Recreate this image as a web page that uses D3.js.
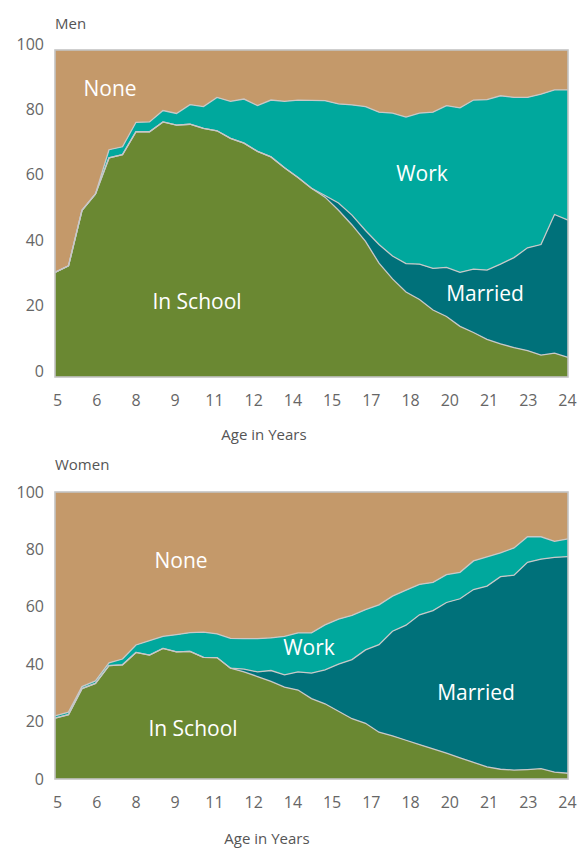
<!DOCTYPE html>
<html>
<head>
<meta charset="utf-8">
<script src="https://cdn.jsdelivr.net/npm/d3@7"></script>
<style>
  body { margin: 0; background: #fff; }
  svg { display: block; font-family: "Open Sans", "Noto Sans", sans-serif; }
</style>
</head>
<body>
<svg id="chart"></svg>
<script>
// ages, every half year
const ages = [5, 5.5, 6, 6.5, 7, 7.5, 8, 8.5, 9, 9.5, 10, 10.5, 11, 11.5, 12, 12.5, 13, 13.5, 14, 14.5,
  15, 15.5, 16, 16.5, 17, 17.5, 18, 18.5, 19, 19.5, 20, 20.5, 21, 21.5, 22, 22.5, 23, 23.5, 24];

const xTickLabels = ["5", "6", "8", "9", "11", "12", "14", "15", "17", "18", "20", "21", "23", "24"];
const yTicks = [0, 20, 40, 60, 80, 100];

// Men (percent)
const menSchool = [32, 34, 51, 56, 67, 68, 75, 75, 78, 77, 77.3, 76, 75.3, 73, 71.5, 69, 67.3, 64, 61, 57.7,
  55, 51, 46.5, 41.5, 34.8, 30, 26, 23.7, 20.5, 18.5, 15.5, 13.6, 11.5, 10.1, 9, 8.1, 6.7, 7.3, 6];
const menMarried = [0, 0, 0, 0, 0, 0, 0, 0, 0, 0, 0, 0, 0, 0, 0, 0, 0, 0, 0, 0,
  0.5, 2.2, 3, 3.3, 5.7, 7, 8.7, 10.8, 12.7, 15, 16.5, 19.4, 21.2, 24.4, 27.5, 31.4, 33.8, 42.4, 42];
const menWork = [0, 0, 0, 0, 2.5, 2.4, 2.9, 3, 3.5, 3.6, 6, 6.7, 10.2, 11.3, 13.5, 14, 17.4, 20.3, 23.7, 26.9,
  29, 30.3, 33.7, 37.9, 40.5, 43.7, 44.8, 46.2, 47.8, 49.5, 50.3, 51.7, 52.1, 51.5, 49, 46, 46, 38.1, 39.8];
const menNone = [68, 66, 49, 44, 30.5, 29.6, 22.1, 22, 18.5, 19.4, 16.7, 17.3, 14.5, 15.7, 15, 17, 15.3, 15.7, 15.3, 15.4,
  15.5, 16.5, 16.8, 17.3, 19, 19.3, 20.5, 19.3, 19, 17, 17.7, 15.3, 15.2, 14, 14.5, 14.5, 13.5, 12.2, 12.2];

// Women (percent)
const womenSchool = [21.2, 22.4, 31.5, 33.3, 39.5, 39.8, 44.1, 43.2, 45.5, 44.3, 44.5, 42.4, 42.3, 38.6, 37.3, 35.7, 34, 32, 31, 28,
  26.2, 23.6, 21, 19.4, 16.3, 15, 13.5, 12, 10.5, 9, 7.4, 5.8, 4.2, 3.4, 3.1, 3.3, 3.6, 2.4, 2];
const womenMarried = [0, 0, 0, 0, 0, 0, 0, 0, 0, 0, 0, 0, 0, 0, 1, 1.6, 3.8, 4.3, 6.3, 8.9,
  11.8, 16.4, 20.6, 25.6, 30.5, 36.5, 40.1, 45.2, 48.2, 52.5, 55.4, 60.2, 63, 67.1, 67.9, 72.2, 73, 74.8, 75.5];
const womenWork = [0.8, 0.9, 0.7, 0.9, 1, 2, 2.6, 5, 4.2, 6, 6.5, 8.8, 8.3, 10.4, 10.6, 11.6, 11.4, 13.4, 13.6, 14,
  15.7, 15.7, 15.4, 14, 13.9, 12.2, 12.2, 10.6, 9.8, 9.7, 9.2, 10, 10.2, 8.3, 9.5, 8.9, 7.8, 5.6, 6.2];
const womenNone = [78, 76.7, 67.8, 65.8, 59.5, 58.2, 53.3, 51.8, 50.3, 49.7, 49, 48.8, 49.4, 51, 51.1, 51.1, 50.8, 50.3, 49.1, 49.1,
  46.3, 44.3, 43, 41, 39.3, 36.3, 34.2, 32.2, 31.5, 28.8, 28, 24, 22.6, 21.2, 19.5, 15.6, 15.6, 17.2, 16.3];

const keys = ["school", "married", "work", "none"];
const colors = { school: "#6a8832", married: "#00717a", work: "#00a89d", none: "#c4996a" };

const width = 579, height = 848;
const svg = d3.select("#chart").attr("width", width).attr("height", height);

function drawPanel(cfg) {
  const rows = ages.map((a, i) => ({
    age: a, school: cfg.school[i], married: cfg.married[i], work: cfg.work[i], none: cfg.none[i]
  }));
  const x = d3.scaleLinear().domain([5, 24]).range([55, 568]);
  const y = d3.scaleLinear().domain([0, 100]).range([cfg.bottom, cfg.top]);
  const series = d3.stack().keys(keys)(rows);

  const area = d3.area()
    .x(d => x(d.data.age))
    .y0(d => y(d[0]))
    .y1(d => y(d[1]));

  const g = svg.append("g");
  g.selectAll("path.layer")
    .data(series)
    .enter()
    .append("path")
    .attr("class", "layer")
    .attr("d", area)
    .attr("fill", d => colors[d.key]);

  // thin light boundaries between layers
  const line = d3.line().x(d => x(d.data.age)).y(d => y(d[1]));
  g.selectAll("path.edge")
    .data(series.slice(0, 3))
    .enter()
    .append("path")
    .attr("class", "edge")
    .attr("d", line)
    .attr("fill", "none")
    .attr("stroke", "#c8c8c8")
    .attr("stroke-width", 1.3);

  // frame
  g.append("rect")
    .attr("x", 55).attr("y", cfg.top)
    .attr("width", 513).attr("height", cfg.bottom - cfg.top)
    .attr("fill", "none")
    .attr("stroke", "#c4c4c4")
    .attr("stroke-width", 1.6);

  // y axis
  const yAxis = g.append("g")
    .attr("transform", `translate(44,${cfg.yShift})`)
    .call(d3.axisLeft(y).tickValues(yTicks).tickSize(0).tickPadding(0));
  yAxis.select(".domain").remove();
  yAxis.selectAll("text")
    .attr("font-size", 16).attr("fill", "#666")
    .attr("font-family", "Open Sans, Noto Sans, sans-serif");

  // x axis (evenly spaced labels)
  const xLab = d3.scalePoint().domain(xTickLabels).range([57, 567]);
  const xAxis = g.append("g")
    .attr("transform", `translate(0,${cfg.xAxisY})`)
    .call(d3.axisBottom(xLab).tickSize(0).tickPadding(0));
  xAxis.select(".domain").remove();
  xAxis.selectAll("text")
    .attr("font-size", 16).attr("fill", "#666")
    .attr("font-family", "Open Sans, Noto Sans, sans-serif");

  g.append("text")
    .attr("x", cfg.xTitleX).attr("y", cfg.xTitleY)
    .attr("text-anchor", "middle")
    .attr("font-size", 15).attr("fill", "#555")
    .text("Age in Years");

  g.append("text")
    .attr("x", 55).attr("y", cfg.titleY)
    .attr("font-size", 15).attr("fill", "#555")
    .text(cfg.title);

  g.selectAll("text.inlab")
    .data(cfg.labels)
    .enter()
    .append("text")
    .attr("class", "inlab")
    .attr("x", d => d[1]).attr("y", d => d[2])
    .attr("text-anchor", "middle")
    .attr("dominant-baseline", "central")
    .attr("font-size", 21).attr("fill", "#fff")
    .text(d => d[0]);
}

drawPanel({
  title: "Men", titleY: 29, top: 50, bottom: 377, yShift: -6,
  school: menSchool, married: menMarried, work: menWork, none: menNone,
  xAxisY: 395, xTitleX: 264, xTitleY: 440,
  labels: [["None", 110, 88], ["Work", 422, 173], ["In School", 197, 301], ["Married", 485, 293]]
});

drawPanel({
  title: "Women", titleY: 470, top: 492, bottom: 779, yShift: 0,
  school: womenSchool, married: womenMarried, work: womenWork, none: womenNone,
  xAxisY: 797, xTitleX: 267, xTitleY: 844,
  labels: [["None", 181, 560], ["Work", 309, 647], ["In School", 193, 728], ["Married", 476, 692]]
});
</script>
</body>
</html>
